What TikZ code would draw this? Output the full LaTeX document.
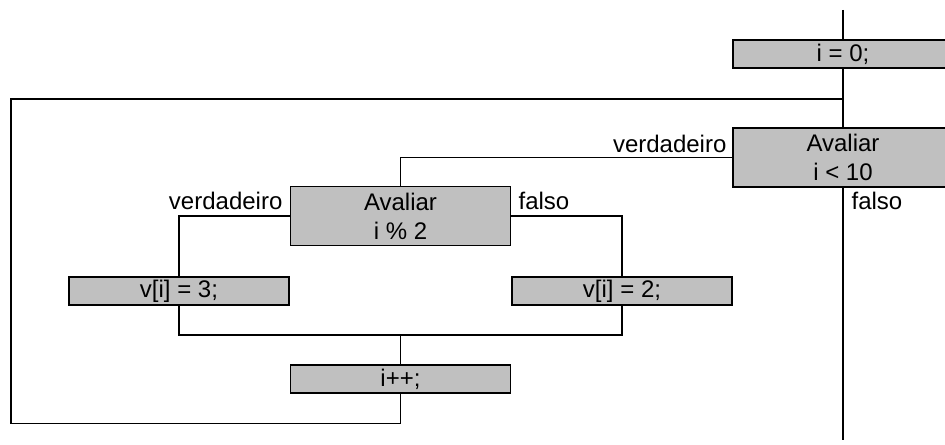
\documentclass[tikz,border=0pt]{standalone}
\usepackage{fontspec}
\setmainfont{Liberation Sans}
\definecolor{boxgray}{RGB}{192,192,192}
\begin{document}
\begin{tikzpicture}[x=0.75pt,y=-0.75pt,
  every node/.style={font=\fontsize{18}{21.75}\selectfont},
  blk/.style={draw=black,fill=boxgray,line width=1.1pt,inner sep=0pt,minimum width=165pt,minimum height=21pt,align=center},
  blk2/.style={blk,minimum height=44pt},
  lbl/.style={inner sep=1pt},
  ln/.style={line width=0.95pt}]
\useasboundingbox (0,0) rectangle (945,445);
\clip (0,0) rectangle (945,445);
\fill[white] (0,0) rectangle (945,445);
\coordinate (top) at (843,10);
\coordinate (bottom) at (843,440);
\coordinate (loopR) at (843,99);
\coordinate (loopL) at (11,99);
\coordinate (join) at (400.5,335);
\node[blk] (init) at (843,54) {i = 0;};
\node[blk2] (cond) at (843,157.5) {Avaliar\\i < 10};
\node[blk2] (par) at (400.5,216) {Avaliar\\i \% 2};
\node[blk] (v3) at (179,291) {v[i] = 3;};
\node[blk] (v2) at (622,291) {v[i] = 2;};
\node[blk] (inc) at (400.5,379) {i++;};
\draw[ln] (top) -- (init.north);
\draw[ln] (init.south) -- (cond.north);
\draw[ln] (cond.south) -- (bottom);
\draw[ln] (cond.west) -| (par.north);
\draw[ln] (par.west) -| (v3.north);
\draw[ln] (par.east) -| (v2.north);
\draw[ln] (v3.south) |- (join) -| (v2.south);
\draw[ln] (join) -- (inc.north);
\draw[ln] (inc.south) -- ++(0,30) -| (loopL) -- (loopR);
\node[lbl,anchor=east] (lv1) at (728,144) {verdadeiro};
\node[lbl,anchor=west] (lf1) at (850,201) {falso};
\node[lbl,anchor=east] (lv2) at (284,201) {verdadeiro};
\node[lbl,anchor=west] (lf2) at (517,201) {falso};
\end{tikzpicture}
\end{document}
